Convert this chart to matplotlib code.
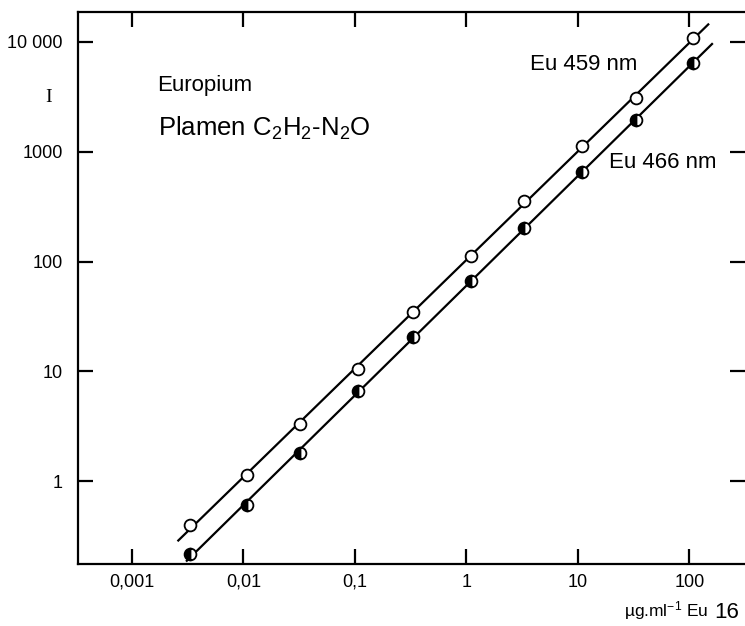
import numpy as np
import matplotlib; matplotlib.use("Agg")
import matplotlib.pyplot as plt

plt.rcParams["font.family"] = ["Liberation Sans", "DejaVu Sans"]
plt.rcParams["mathtext.default"] = "regular"

# concentration (ug/ml Eu) and intensity readings
CONC = [0.0033, 0.0107, 0.032, 0.107, 0.33, 1.1, 3.3, 11, 33, 108]
I_459 = [0.40, 1.13, 3.3, 10.4, 35, 113, 359, 1130, 3100, 10900]
I_466 = [0.217, 0.605, 1.8, 6.6, 20.4, 67, 204, 660, 1950, 6460]
# extent of the drawn calibration lines
LINE_459_X = [0.0026, 148]
LINE_466_X = [0.0031, 160]

X_TICKS = [0.001, 0.01, 0.1, 1, 10, 100]
X_LABELS = ["0,001", "0,01", "0,1", "1", "10", "100"]
Y_TICKS = [1, 10, 100, 1000, 10000]
Y_LABELS = ["1", "10", "100", "1000", "10 000"]

fig = plt.figure(figsize=(7.45, 6.26), dpi=100)
ax = fig.add_axes([78 / 745, 1 - 564 / 626, 1 - 78 / 745, (564 - 12) / 626])
ax.set_xscale("log"); ax.set_yscale("log")
ax.set_xlim(10 ** -3.485, 10 ** 2.5)
ax.set_ylim(10 ** -0.755, 10 ** 4.273)


def fit_line(x, y, ext):
    k, b = np.polyfit(np.log10(x), np.log10(y), 1)
    xx = np.array(ext)
    return xx, 10 ** (k * np.log10(xx) + b)


for yy, ext in ((I_459, LINE_459_X), (I_466, LINE_466_X)):
    lx, ly = fit_line(CONC, yy, ext)
    ax.plot(lx, ly, "-", color="black", lw=1.6, zorder=2)

ax.plot(CONC, I_459, "o", ms=8.5, mfc="white", mec="black", mew=1.3, ls="none", zorder=3)
ax.plot(CONC, I_466, "o", ms=8.5, fillstyle="left", mfc="black", mfcalt="white",
        mec="black", mew=1.3, ls="none", zorder=3)

ax.spines["right"].set_visible(False)
for s in ("left", "top", "bottom"):
    ax.spines[s].set_linewidth(1.6)
ax.minorticks_off()
ax.set_xticks(X_TICKS, X_LABELS)
ax.set_yticks(Y_TICKS, Y_LABELS)
ax.tick_params(axis="both", direction="in", length=11, width=1.6,
               top=True, right=True, labelsize=13)
ax.tick_params(axis="y", pad=11)
ax.tick_params(axis="x", pad=7)

fig.text(157 / 745, 1 - 85 / 626, "Europium", fontsize=16, va="center")
fig.text(158 / 745, 1 - 128 / 626, "Plamen C$_2$H$_2$-N$_2$O", fontsize=18.5, va="center")
fig.text(584 / 745, 1 - 65 / 626, "Eu 459 nm", fontsize=16, ha="center", va="center")
fig.text(663 / 745, 1 - 163 / 626, "Eu 466 nm", fontsize=16, ha="center", va="center")

fig.text(49 / 745, 1 - 98 / 626, "I", family=["Liberation Serif"], fontsize=14,
         ha="center", va="center")
fig.text(666 / 745, 1 - 611 / 626, "µg.ml$^{-1}$ Eu", fontsize=12.5, ha="center", va="center")
fig.text(727 / 745, 1 - 612 / 626, "16", fontsize=16, ha="center", va="center")

fig.savefig("out.png", dpi=100, facecolor="white")
